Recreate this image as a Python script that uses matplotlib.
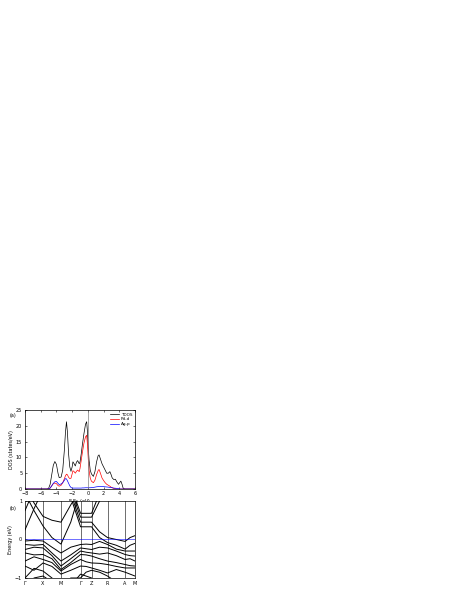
import numpy as np
import matplotlib
matplotlib.use("Agg")
import matplotlib.pyplot as plt

# ---- DOS data ----
dos_e = [-8.0, -5.2, -5.0, -4.8, -4.6, -4.4, -4.2, -4.0, -3.8, -3.65, -3.4, -3.2,
         -3.0, -2.85, -2.72, -2.6, -2.45, -2.3, -2.15, -2.0, -1.9, -1.75, -1.6,
         -1.45, -1.3, -1.1, -1.0, -0.85, -0.7, -0.5, -0.3, -0.15, -0.05, 0.05,
         0.15, 0.3, 0.45, 0.7, 0.9, 1.1, 1.3, 1.42, 1.6, 1.8, 2.0, 2.2, 2.4, 2.6,
         2.8, 2.95, 3.1, 3.3, 3.5, 3.7, 3.9, 4.05, 4.2, 4.35, 4.5, 4.7, 6.0]
tdos = [0, 0, 0.2, 1.5, 4.5, 7.5, 8.7, 7.8, 5.0, 3.6, 3.8, 6.0,
        12.0, 18.0, 21.3, 18.0, 11.0, 7.0, 5.6, 7.0, 8.6, 8.0, 7.3,
        8.5, 9.0, 8.0, 8.5, 11.0, 14.0, 17.5, 20.5, 21.3, 18.0, 13.0,
        9.2, 6.0, 4.8, 4.0, 5.5, 8.5, 10.5, 10.8, 9.5, 8.0, 7.0, 6.0, 5.0, 5.0,
        5.5, 4.6, 3.5, 3.0, 3.1, 2.2, 1.5, 2.0, 2.5, 1.5, 0.2, 0, 0]
pd_d = [0, 0, 0, 0.3, 1.0, 1.7, 1.9, 1.7, 1.1, 0.9, 1.2, 2.0,
        3.2, 4.2, 4.7, 4.5, 3.7, 3.3, 3.4, 4.8, 5.8, 5.5, 5.0,
        5.6, 6.0, 5.5, 6.5, 9.0, 11.5, 14.5, 16.5, 17.0, 14.0, 9.5,
        6.0, 3.5, 2.5, 2.0, 2.8, 4.5, 5.8, 6.2, 5.0, 3.5, 2.7, 2.0, 1.5, 1.2,
        0.9, 0.6, 0.4, 0.2, 0.1, 0, 0, 0, 0, 0, 0, 0, 0]
ag_p = [0, 0, 0, 0.3, 1.0, 1.8, 2.3, 2.4, 1.8, 1.4, 1.6, 2.0,
        2.7, 3.3, 3.2, 2.6, 1.8, 1.0, 0.5, 0.3, 0.3, 0.3, 0.3,
        0.3, 0.3, 0.3, 0.3, 0.3, 0.35, 0.35, 0.4, 0.4, 0.4, 0.4,
        0.4, 0.4, 0.45, 0.5, 0.6, 0.7, 0.75, 0.8, 0.8, 0.8, 0.75, 0.7, 0.65, 0.6,
        0.5, 0.45, 0.4, 0.3, 0.25, 0.2, 0.1, 0.05, 0, 0, 0, 0, 0]

# ---- band structure data ----
k_names = ["Γ", "X", "M", "Γ", "Z", "R", "A", "M"]
k_sym = [0, 0.164, 0.327, 0.505, 0.605, 0.75, 0.91, 1.0]
# high-symmetry points and midpoints between them
k_path = [0, 0.082, 0.164, 0.245, 0.327, 0.416, 0.505, 0.555, 0.605, 0.678,
          0.75, 0.83, 0.91, 0.955, 1.0]
bands = [
    [0.75, 1.3, 1.6, 1.6, 1.6, 1.6, 1.6, 1.6, 1.6, 1.6, 1.6, 1.6, 1.6, 1.6, 1.6],
    [0.25, 0.8, 1.3, 1.5, 1.5, 1.5, 1.5, 1.5, 1.5, 1.5, 1.5, 1.5, 1.5, 1.5, 1.5],
    [1.4, 0.95, 0.6, 0.5, 0.45, 0.9, 1.3, 1.3, 1.3, 1.3, 1.3, 1.3, 1.3, 1.3, 1.3],
    [1.2, 0.75, 0.35, 0.05, -0.12, 0.45, 1.3, 1.3, 1.3, 1.3, 1.3, 1.3, 1.3, 1.3, 1.3],
    [1.5, 1.5, 1.5, 1.5, 1.5, 1.4, 0.68, 0.68, 0.68, 1.2, 1.5, 1.5, 1.5, 1.5, 1.5],
    [1.5, 1.5, 1.5, 1.5, 1.5, 1.3, 0.58, 0.58, 0.58, 1.0, 1.3, 1.3, 1.3, 1.3, 1.3],
    [1.5, 1.5, 1.5, 1.5, 1.5, 1.2, 0.45, 0.45, 0.45, 0.2, 0.05, 0.0, -0.05, 0.05, 0.1],
    [1.5, 1.5, 1.5, 1.5, 1.5, 1.1, 0.33, 0.33, 0.33, 0.05, -0.08, -0.15, -0.25, -0.15, -0.1],
    [-0.04, -0.02, -0.04, -0.2, -0.35, -0.2, -0.13, -0.12, -0.13, -0.05, -0.13, -0.25, -0.3, -0.3, -0.3],
    [-0.13, -0.15, -0.13, -0.35, -0.56, -0.4, -0.22, -0.24, -0.26, -0.2, -0.22, -0.3, -0.39, -0.42, -0.43],
    [-0.26, -0.2, -0.22, -0.42, -0.69, -0.5, -0.3, -0.33, -0.35, -0.38, -0.35, -0.42, -0.52, -0.5, -0.56],
    [-0.35, -0.4, -0.39, -0.5, -0.78, -0.6, -0.39, -0.4, -0.43, -0.5, -0.56, -0.6, -0.65, -0.68, -0.69],
    [-0.56, -0.45, -0.52, -0.6, -0.82, -0.65, -0.52, -0.58, -0.61, -0.62, -0.65, -0.7, -0.74, -0.74, -0.74],
    [-0.69, -0.8, -0.61, -0.7, -0.9, -0.8, -0.69, -0.7, -0.74, -0.8, -0.87, -0.78, -0.85, -0.9, -0.95],
    [-1.0, -0.75, -0.82, -1.0, -1.2, -1.0, -1.0, -0.85, -0.8, -0.85, -0.95, -1.1, -1.2, -1.2, -1.2],
    [-1.3, -1.0, -0.95, -1.1, -1.3, -1.2, -0.9, -0.95, -1.0, -1.2, -1.3, -1.3, -1.3, -1.3, -1.3],
]

fs = 3.5
plt.rcParams["font.family"] = ["DejaVu Sans"]
plt.rcParams["axes.linewidth"] = 0.5

fig = plt.figure(figsize=(4.63, 5.99), dpi=100)

# (a) density of states
ax1 = fig.add_axes([0.054, 0.1836, 0.2376, 0.1319])
ax1.plot(dos_e, tdos, color="black", lw=0.5, label="TDOS")
ax1.plot(dos_e, pd_d, color="red", lw=0.5, label="Pd-d")
ax1.plot(dos_e, ag_p, color="blue", lw=0.5, label="Ag-p")
ax1.axvline(0, color="gray", lw=0.5)
ax1.set_xlim(-8, 6)
ax1.set_ylim(0, 25)
ax1.set_xticks(np.arange(-8, 7, 2))
ax1.set_yticks(np.arange(0, 26, 5))
ax1.tick_params(direction="in", top=True, right=True, length=1.5, width=0.4,
                labelsize=fs)
ax1.tick_params(axis="x", pad=1.5)
ax1.tick_params(axis="y", pad=2)
ax1.set_xlabel("E-E$_F$ (eV)", fontsize=fs, labelpad=1)
ax1.set_ylabel("DOS (states/eV)", fontsize=fs, labelpad=1.5)
ax1.legend(loc="upper right", fontsize=3, frameon=False, handlelength=2.2,
           handletextpad=0.4, borderaxespad=0.2, labelspacing=0.2)
fig.text(0.028, 0.307, "(a)", fontsize=fs, ha="center", va="center")

# (b) band structure
ax2 = fig.add_axes([0.054, 0.0351, 0.2376, 0.1285])
for b in bands:
    ax2.plot(k_path, b, color="black", lw=0.7)
for k in k_sym[1:-1]:
    ax2.axvline(k, color="black", lw=0.4)
ax2.axhline(0, color="blue", lw=0.4)
ax2.set_xlim(0, 1)
ax2.set_ylim(-1, 1)
ax2.set_xticks(k_sym)
ax2.set_xticklabels(k_names)
ax2.set_yticks([-1, 0, 1])
ax2.tick_params(direction="in", length=1.5, width=0.4, labelsize=fs, pad=2)
ax2.tick_params(axis="x", length=0, pad=2)
ax2.set_ylabel("Energy (eV)", fontsize=fs, labelpad=1.5)
fig.text(0.028, 0.151, "(b)", fontsize=fs, ha="center", va="center")

fig.savefig("out.png", dpi=100)
